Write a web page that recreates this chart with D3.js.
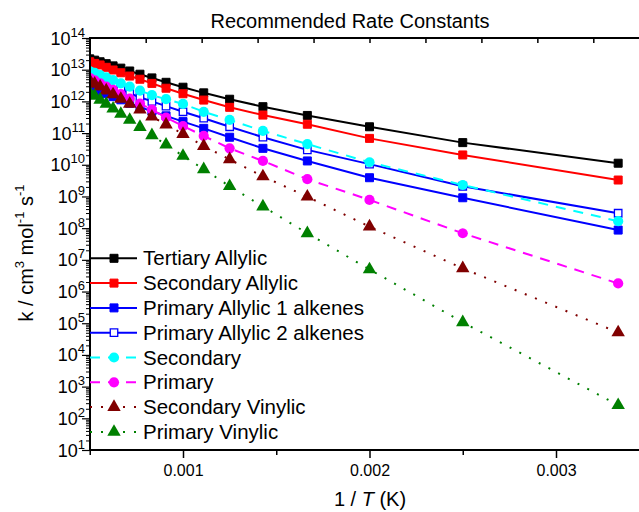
<!DOCTYPE html>
<html>
<head>
<meta charset="utf-8">
<script src="https://cdn.jsdelivr.net/npm/d3@7"></script>
<style>
    body { margin: 0; background: #fff; }
    text { font-family: "Liberation Sans", Arial, sans-serif; fill: #000; }
</style>
</head>
<body>
<div id="chart"></div>
<script>
// temperatures (K) of the points; x is 1/T
const temps = [300, 400, 500, 600, 700, 800, 900, 1000, 1100, 1200, 1300, 1400, 1500, 1600, 1700, 1800, 1900, 2000];

// k / cm3 mol-1 s-1
const tertiaryAllylic = [1.12e10, 5.0e10, 1.58e11, 3.6e11, 6.8e11, 1.17e12, 1.86e12, 2.8e12, 4.0e12, 5.5e12, 7.2e12, 9.1e12, 1.12e13, 1.32e13, 1.55e13, 1.78e13, 2.0e13, 2.2e13];
const secondaryAllylic = [3.3e9, 2.04e10, 6.8e10, 1.9e11, 3.7e11, 6.5e11, 1.1e12, 1.74e12, 2.6e12, 3.7e12, 5.0e12, 6.3e12, 8.0e12, 9.8e12, 1.19e13, 1.41e13, 1.58e13, 1.78e13];
const primaryAllylic1 = [8.7e7, 9.1e8, 3.9e9, 1.32e10, 3.3e10, 7.4e10, 1.41e11, 2.3e11, 3.5e11, 4.9e11, 6.6e11, 8.7e11, 1.12e12, 1.41e12, 1.74e12, 2.1e12, 2.5e12, 2.95e12];
const primaryAllylic2 = [2.95e8, 2.1e9, 1.05e10, 2.95e10, 7.4e10, 1.58e11, 2.95e11, 4.7e11, 7.1e11, 1.0e12, 1.35e12, 1.78e12, 2.3e12, 2.9e12, 3.55e12, 4.3e12, 5.1e12, 6.0e12];
const secondary = [1.66e8, 2.3e9, 1.2e10, 4.5e10, 1.17e11, 2.6e11, 4.7e11, 8.3e11, 1.17e12, 1.58e12, 2.2e12, 2.9e12, 3.7e12, 4.7e12, 5.75e12, 6.8e12, 7.9e12, 9.1e12];
const primary = [1.8e6, 6.9e7, 7.8e8, 3.5e9, 1.32e10, 3.3e10, 8.1e10, 1.66e11, 3.1e11, 5.5e11, 8.5e11, 1.23e12, 1.7e12, 2.3e12, 2.95e12, 3.7e12, 4.6e12, 5.5e12];
const secondaryVinylic = [5.1e4, 5.4e6, 1.12e8, 9.8e8, 4.3e9, 1.48e10, 3.9e10, 9.3e10, 1.86e11, 3.3e11, 5.5e11, 8.3e11, 1.2e12, 1.66e12, 2.2e12, 2.9e12, 3.6e12, 4.5e12];
const primaryVinylic = [2.6e2, 1.07e5, 5.0e6, 6.9e7, 4.8e8, 2.1e9, 7.2e9, 1.9e10, 4.3e10, 8.5e10, 1.55e11, 2.6e11, 4.0e11, 5.9e11, 8.3e11, 1.12e12, 1.48e12, 1.9e12];

const seriesNames = ["Tertiary Allylic", "Secondary Allylic", "Primary Allylic 1 alkenes", "Primary Allylic 2 alkenes",
    "Secondary", "Primary", "Secondary Vinylic", "Primary Vinylic"];

const xMajorTicks = [0.001, 0.002, 0.003];
const yDecades = d3.range(1, 15);

const width = 639, height = 512;
const plotLeft = 90, plotTop = 38, plotBottom = 450;

let series = [
    {values: tertiaryAllylic, color: "#000000", dash: null, marker: "square"},
    {values: secondaryAllylic, color: "#ff0000", dash: null, marker: "square"},
    {values: primaryAllylic1, color: "#0000ff", dash: null, marker: "square"},
    {values: primaryAllylic2, color: "#0000ff", dash: null, marker: "open"},
    {values: secondary, color: "#00ffff", dash: "10,8", marker: "circle"},
    {values: primary, color: "#ff00ff", dash: "10,8", marker: "circle"},
    {values: secondaryVinylic, color: "#800000", dash: "2,9", marker: "triangle"},
    {values: primaryVinylic, color: "#008000", dash: "2,9", marker: "triangle"}
].map((s, i) => ({...s, name: seriesNames[i], points: temps.map((t, j) => ({t: t, k: s.values[j]}))}));

let svg = d3.select("#chart")
    .append("svg")
    .attr("width", width)
    .attr("height", height);

let x = d3.scaleLinear()
    .domain([0.0005, 0.0035])
    .range([89.75, 649.25]);

let y = d3.scaleLog()
    .domain([1e1, 1e14])
    .range([plotBottom, plotTop]);

svg.append("defs").append("clipPath")
    .attr("id", "plot-clip")
    .append("rect")
    .attr("x", plotLeft)
    .attr("y", plotTop - 6)
    .attr("width", width - plotLeft)
    .attr("height", plotBottom - plotTop + 6);

// markers
let symbolFor = m => {
    if (m === "circle") return d3.symbol(d3.symbolCircle, 82)();
    if (m === "triangle") return d3.symbol(d3.symbolTriangle, 78)();
    if (m === "open") return d3.symbol(d3.symbolSquare, 56)();
    return d3.symbol(d3.symbolSquare, 64)();
};

let drawMarker = (g, s, cx, cy) => {
    g.append("path")
        .attr("d", symbolFor(s.marker))
        .attr("transform", `translate(${cx},${cy})`)
        .attr("fill", s.marker === "open" ? "#fff" : s.color)
        .attr("stroke", s.marker === "open" || s.marker === "square" ? s.color : "none")
        .attr("stroke-width", s.marker === "open" ? 1.3 : 1);
};

// series
let line = d3.line()
    .x(d => x(1 / d.t))
    .y(d => y(d.k));

let plot = svg.append("g").attr("clip-path", "url(#plot-clip)");

series.forEach(s => {
    let g = plot.append("g");
    g.append("path")
        .datum(s.points)
        .attr("d", line)
        .attr("fill", "none")
        .attr("stroke", s.color)
        .attr("stroke-width", 2)
        .attr("stroke-dasharray", s.dash);
    s.points.forEach(p => drawMarker(g, s, x(1 / p.t), y(p.k)));
});

// axes
let yMinor = [];
yDecades.slice(0, -1).forEach(e => d3.range(2, 10).forEach(m => yMinor.push(m * Math.pow(10, e))));

svg.append("g")
    .attr("transform", `translate(${plotLeft},0)`)
    .call(d3.axisLeft(y).tickValues(yMinor).tickSize(4).tickSizeOuter(0).tickFormat(""))
    .call(g => g.select(".domain").remove());

let yAxis = svg.append("g")
    .attr("transform", `translate(${plotLeft},0)`)
    .call(d3.axisLeft(y).tickValues(yDecades.map(e => Math.pow(10, e))).tickSize(8).tickSizeOuter(0).tickFormat(""))
    .call(g => g.select(".domain").remove());

yAxis.selectAll(".tick line").attr("stroke-width", 1.2);

yAxis.selectAll(".tick")
    .append("text")
    .attr("x", -5)
    .attr("y", 6)
    .attr("text-anchor", "end")
    .style("font-size", "18px")
    .each(function(d) {
        let t = d3.select(this);
        t.append("tspan").text("10");
        t.append("tspan").attr("dy", -8).style("font-size", "13px").text(Math.round(Math.log10(d)));
    });

let xAxis = svg.append("g")
    .attr("transform", `translate(0,${plotBottom})`)
    .call(d3.axisBottom(x).tickValues(xMajorTicks).tickSize(8).tickSizeOuter(0).tickFormat(d3.format(".3f")))
    .call(g => g.select(".domain").remove());

xAxis.selectAll(".tick line").attr("stroke-width", 1.5);
xAxis.selectAll(".tick text")
    .attr("y", 15)
    .style("font-size", "16px")
    .style("font-family", '"Liberation Sans", Arial, sans-serif')
    .attr("fill", "#000");

svg.append("g")
    .attr("transform", `translate(0,${plotBottom})`)
    .call(d3.axisBottom(x).tickValues([0.0005, 0.0015, 0.0025, 0.0035]).tickSize(5).tickSizeOuter(0).tickFormat(""))
    .call(g => g.select(".domain").remove())
    .selectAll(".tick line").attr("stroke-width", 1.5);

// top axis: ticks pointing inward
svg.append("g")
    .attr("transform", `translate(0,${plotTop})`)
    .call(d3.axisBottom(x).tickValues(d3.range(8, 36, 3).map(v => v / 10000)).tickSize(5).tickSizeOuter(0).tickFormat(""))
    .call(g => g.select(".domain").remove())
    .selectAll(".tick line").attr("stroke-width", 1.5);

// frame
svg.append("path")
    .attr("d", `M${width},${plotTop}H${plotLeft}V${plotBottom}H${width}`)
    .attr("fill", "none")
    .attr("stroke", "#000")
    .attr("stroke-width", 2);

// titles
svg.append("text")
    .attr("x", 350)
    .attr("y", 28)
    .attr("text-anchor", "middle")
    .style("font-size", "20px")
    .text("Recommended Rate Constants");

let xTitle = svg.append("text")
    .attr("x", 370)
    .attr("y", 506)
    .attr("text-anchor", "middle")
    .style("font-size", "20px");
xTitle.append("tspan").text("1 / ");
xTitle.append("tspan").style("font-style", "italic").text("T");
xTitle.append("tspan").text(" (K)");

let yTitle = svg.append("text")
    .attr("transform", "translate(33,253) rotate(-90)")
    .attr("text-anchor", "middle")
    .style("font-size", "20px");
yTitle.append("tspan").text("k / cm");
yTitle.append("tspan").attr("dy", -9).style("font-size", "13px").text("3");
yTitle.append("tspan").attr("dy", 9).text(" mol");
yTitle.append("tspan").attr("dy", -9).style("font-size", "13px").text("-1");
yTitle.append("tspan").attr("dy", 9).text(" s");
yTitle.append("tspan").attr("dy", -9).style("font-size", "13px").text("-1");

// legend
let legend = svg.append("g");
series.forEach((s, i) => {
    let ly = 258.3 + i * 24.8;
    let g = legend.append("g");
    g.append("line")
        .attr("x1", plotLeft)
        .attr("x2", 137)
        .attr("y1", ly)
        .attr("y2", ly)
        .attr("stroke", s.color)
        .attr("stroke-width", 2)
        .attr("stroke-dasharray", s.dash);
    drawMarker(g, s, 114, ly);
    g.append("text")
        .attr("x", 143)
        .attr("y", ly + 7)
        .style("font-size", "20.5px")
        .text(s.name);
});
</script>
</body>
</html>
